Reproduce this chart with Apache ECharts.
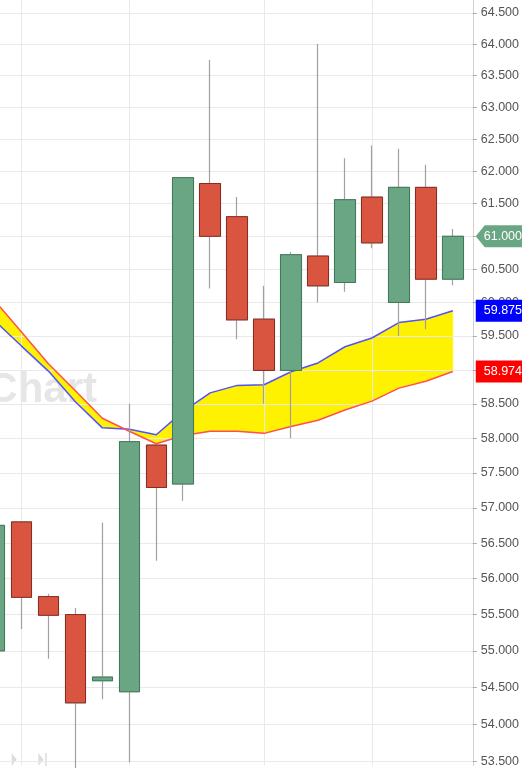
<!DOCTYPE html>
<html><head><meta charset="utf-8">
<script src="https://cdn.jsdelivr.net/npm/echarts@6/dist/echarts.min.js"></script>
<style>html,body{margin:0;padding:0;background:#fff}#c{width:522px;height:768px}</style>
</head><body><div id="c"></div>
<script>
// ---- data ----
const candleIndex = [0,1,2,3,4,5,6,7,8,9,10,11,12,13,14,15,16,17];
const opens  = [55.00, 56.80, 55.75, 55.50, 54.59, 54.44, 57.90, 57.34, 61.81, 61.30, 59.75, 58.99, 60.70, 60.30, 61.60, 60.00, 61.75, 60.35];
const closes = [56.75, 55.74, 55.49, 54.29, 54.64, 57.95, 57.29, 61.90, 61.00, 59.74, 58.99, 60.72, 60.25, 61.56, 60.90, 61.75, 60.35, 61.00];
const lows   = [54.90, 55.30, 54.89, 53.30, 54.34, 53.49, 56.25, 57.10, 60.21, 59.45, 58.50, 58.00, 60.00, 60.16, 60.82, 59.50, 59.60, 60.26];
const highs  = [56.85, 56.80, 55.79, 55.59, 56.79, 58.50, 57.92, 61.90, 63.75, 61.60, 60.25, 60.76, 64.00, 62.20, 62.40, 62.35, 62.10, 61.11];
const spanBlue = [59.73, 59.35, 58.98, 58.53, 58.15, 58.13, 58.05, 58.39, 58.66, 58.77, 58.78, 58.97, 59.10, 59.34, 59.47, 59.70, 59.75, 59.875];
const spanRed  = [60.03, 59.56, 59.09, 58.69, 58.29, 58.10, 57.92, 58.04, 58.10, 58.10, 58.07, 58.17, 58.26, 58.41, 58.54, 58.73, 58.83, 58.974];
const yTickValues = [53.5,54,54.5,55,55.5,56,56.5,57,57.5,58,58.5,59,59.5,60,60.5,61,61.5,62,62.5,63,63.5,64,64.5];
const xGridIndices = [1,5,10,14];
const X_MIN = 0.204, X_MAX = 17.74, Y_MIN = 53.447, Y_MAX = 64.709;

const FONT = "'Liberation Sans Narrow', 'Liberation Sans', sans-serif";
const last = candleIndex.length - 1;

const wickData = candleIndex.map((x,i)=>[x, opens[i], closes[i], lows[i], highs[i]]);
const bodyData = candleIndex.map((x,i)=>[x, opens[i], closes[i], Math.min(opens[i],closes[i]), Math.max(opens[i],closes[i])]);
const blueData = candleIndex.map((x,i)=>[x, spanBlue[i]]);
const redData  = candleIndex.map((x,i)=>[x, spanRed[i]]);

function tag(value, color, symbol){
  return {
    symbol: symbol, symbolSize: [60, 22], symbolOffset: [33, 0],
    silent: true, animation: false,
    itemStyle: {color: color},
    label: {show: true, position: [8, 11], align: 'left', verticalAlign: 'middle',
      color: '#fff', fontSize: 12.5, fontFamily: FONT, formatter: p => Number(p.value).toFixed(3)},
    data: [{coord: [X_MAX, value], value: value}]
  };
}

function renderBand(params, api){
  const pts = [];
  for (let i = 0; i < candleIndex.length; i++) pts.push(api.coord([candleIndex[i], spanBlue[i]]));
  for (let i = candleIndex.length - 1; i >= 0; i--) pts.push(api.coord([candleIndex[i], spanRed[i]]));
  return {type: 'polygon', shape: {points: pts}, style: {fill: '#fff200', stroke: '#fff200', lineWidth: 0.5}, silent: true};
}

const chart = echarts.init(document.getElementById('c'), null, {renderer: 'canvas'});
chart.setOption({
  animation: false,
  backgroundColor: '#ffffff',
  grid: {left: 0, right: 44, top: 0, bottom: 0, containLabel: false},
  xAxis: {
    type: 'value', min: X_MIN, max: X_MAX, z: 2,
    axisLine: {show: false}, axisLabel: {show: false},
    axisTick: {show: false, customValues: xGridIndices},
    splitLine: {show: true, lineStyle: {color: '#e9e9e9', width: 1}}
  },
  yAxis: {
    type: 'log', position: 'right', min: Y_MIN, max: Y_MAX, z: 2,
    axisLine: {show: true, lineStyle: {color: '#d0d0d0', width: 1}},
    axisTick: {show: true, length: 4, customValues: yTickValues, lineStyle: {color: '#aaaaaa'}},
    axisLabel: {show: true, customValues: yTickValues, margin: 8, color: '#555555',
      fontSize: 12.5, fontFamily: FONT, formatter: v => Number(v).toFixed(3)},
    splitLine: {show: true, lineStyle: {color: '#e9e9e9', width: 1}}
  },
  graphic: [
    {type: 'text', z: 0, silent: true,
     style: {text: 'Chart', x: 97, y: 390, align: 'right', verticalAlign: 'middle',
       font: "bold 42px 'Liberation Sans Narrow', 'Liberation Sans', sans-serif", fill: '#e6e6e6'}},
    {type: 'polygon', z: 0, silent: true, shape: {points: [[11.7,753],[16.7,759.5],[11.7,766]]}, style: {fill: '#dddddd'}},
    {type: 'polygon', z: 0, silent: true, shape: {points: [[38.3,753],[43.5,759.5],[38.3,766]]}, style: {fill: '#dddddd'}},
    {type: 'rect', z: 0, silent: true, shape: {x: 45.2, y: 753, width: 1.5, height: 13}, style: {fill: '#dddddd'}}
  ],
  series: [
    {type: 'custom', name: 'band', data: [[candleIndex[0], spanBlue[0]]], z: 1, silent: true,
     encode: {x: 0, y: 1}, renderItem: renderBand, clip: true},
    {type: 'line', name: 'blue', data: blueData, z: 3, symbol: 'none',
     lineStyle: {color: '#5252ff', width: 1.5}, markPoint: tag(spanBlue[last], '#0000ff', 'rect')},
    {type: 'line', name: 'red', data: redData, z: 3, symbol: 'none',
     lineStyle: {color: '#ff5050', width: 1.5}, markPoint: tag(spanRed[last], '#ff0000', 'rect')},
    {type: 'candlestick', name: 'wicks', data: wickData, z: 4, barWidth: 21,
     encode: {x: 0, y: [1,2,3,4]},
     itemStyle: {color: 'rgba(0,0,0,0)', color0: 'rgba(0,0,0,0)', borderColor: '#a0a0a0', borderColor0: '#a0a0a0', borderWidth: 1.2}},
    {type: 'candlestick', name: 'bodies', data: bodyData, z: 5, barWidth: 21,
     encode: {x: 0, y: [1,2,3,4]},
     itemStyle: {color: '#6aa683', color0: '#d9553f', borderColor: '#3f7a57', borderColor0: '#8a2c20', borderWidth: 1},
     markPoint: tag(closes[last], '#6aa683', 'path://M0,11 L9,0 L60,0 L60,22 L9,22 Z')}
  ]
});
</script></body></html>
